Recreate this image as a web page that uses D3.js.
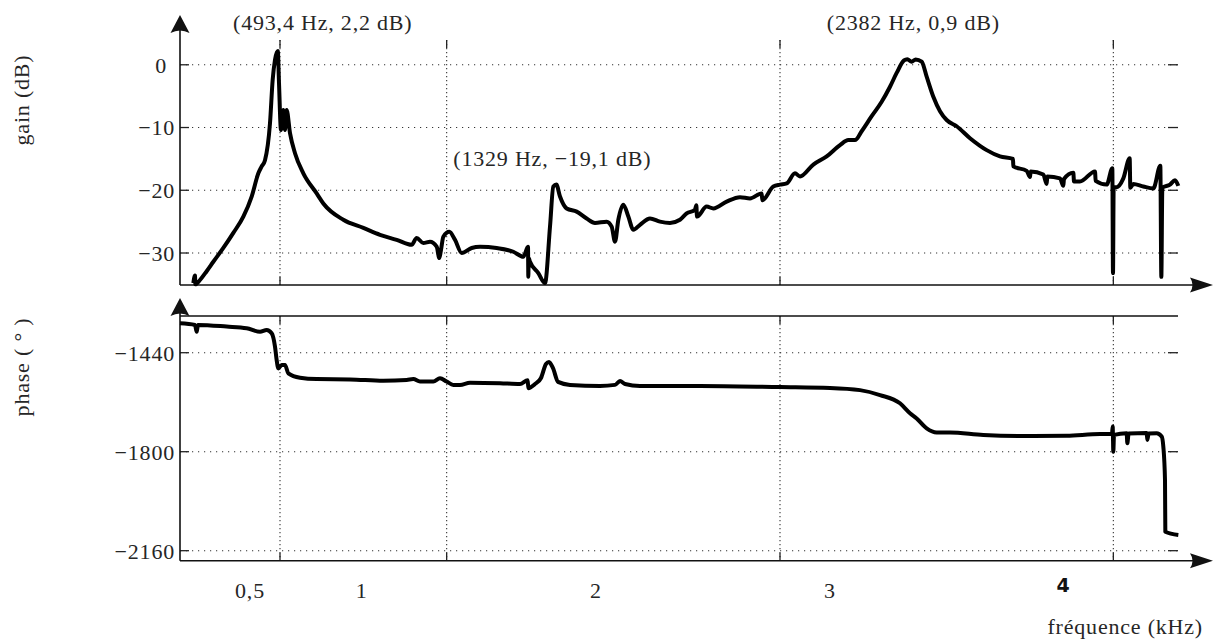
<!DOCTYPE html>
<html>
<head>
<meta charset="utf-8">
<script src="https://cdn.jsdelivr.net/npm/d3@7"></script>
<style>
  html, body { margin: 0; padding: 0; background: #fff; }
  svg { display: block; }
  .serif { font-family: "Liberation Serif", "Times New Roman", serif; fill: #262626; letter-spacing: 0.8px; }
</style>
</head>
<body>
<svg id="chart" width="1214" height="640"></svg>
<script>
// Frequency response of the measured system: gain (dB) and phase (deg) vs frequency (kHz)

const gainFreq = [
  0.240, 0.245, 0.246, 0.260, 0.280, 0.300, 0.330, 0.360, 0.390, 0.415, 0.435, 0.445, 0.455,
  0.470, 0.478, 0.485, 0.4934, 0.497, 0.503, 0.510, 0.515, 0.520, 0.530, 0.545, 0.570,
  0.610, 0.630, 0.690, 0.750, 0.800, 0.850, 0.895, 0.910, 0.930, 0.950, 0.970, 0.978,
  0.983, 0.990, 1.008, 1.025, 1.045, 1.075, 1.100, 1.150, 1.200, 1.230, 1.244, 1.245,
  1.246, 1.250, 1.275, 1.295, 1.310, 1.320, 1.329, 1.340, 1.360, 1.390, 1.420, 1.445,
  1.480, 1.495, 1.505, 1.515, 1.530, 1.545, 1.560, 1.580, 1.610, 1.640, 1.670, 1.700,
  1.720, 1.745, 1.749, 1.751, 1.780, 1.800, 1.840, 1.880, 1.910, 1.945, 1.947, 1.980,
  2.000, 2.020, 2.045, 2.060, 2.100, 2.140, 2.180, 2.205, 2.225, 2.245, 2.275, 2.305,
  2.330, 2.350, 2.372, 2.382, 2.395, 2.407, 2.425, 2.440, 2.460, 2.480, 2.500, 2.530,
  2.570, 2.620, 2.660, 2.699, 2.700, 2.740, 2.750, 2.752, 2.790, 2.800, 2.802, 2.840,
  2.850, 2.852, 2.880, 2.882, 2.900, 2.945, 2.947, 2.980, 2.997, 2.999, 3.001, 3.010,
  3.030, 3.049, 3.051, 3.060, 3.090, 3.120, 3.141, 3.144, 3.147, 3.170, 3.185, 3.195
];
const gainDb = [
  -34.8, -33.6, -35.0, -34.3, -32.9, -31.4, -29.2, -26.8, -24.2, -21.0, -17.3, -16.2, -15.2,
  -9.3, -2.4, 0.8, 2.2, -2.9, -10.4, -7.2, -10.4, -7.2, -10.9, -14.1, -17.3,
  -20.5, -22.1, -24.7, -26.0, -27.1, -27.9, -28.7, -27.6, -28.4, -28.2, -29.0, -30.8,
  -29.5, -27.4, -26.6, -27.9, -30.0, -29.2, -29.0, -29.2, -29.8, -30.6, -29.0, -33.8,
  -30.8, -31.4, -33.2, -34.8, -25.8, -19.4, -19.1, -21.0, -22.9, -23.4, -24.5, -25.2,
  -25.0, -25.8, -28.2, -24.7, -22.3, -24.2, -26.3, -25.5, -24.5, -25.0, -25.2, -24.7,
  -23.7, -23.1, -22.4, -24.2, -22.6, -22.9, -21.8, -21.1, -21.3, -20.5, -21.6, -19.4,
  -19.1, -18.9, -17.3, -17.8, -15.9, -14.6, -12.8, -12.0, -12.0, -10.6, -8.2, -5.9,
  -3.5, -1.3, 0.7, 0.9, 0.5, 0.85, 0.5, -1.9, -5.1, -7.4, -8.8, -9.8,
  -11.7, -13.6, -14.6, -15.0, -16.2, -16.9, -17.9, -17.0, -17.5, -19.0, -17.8, -18.1,
  -19.3, -18.2, -17.2, -18.6, -18.6, -17.0, -18.5, -19.1, -16.5, -33.2, -19.5, -19.5,
  -18.1, -14.9, -19.6, -19.0, -19.4, -19.7, -16.1, -33.8, -19.6, -19.1, -18.4, -19.3
];

const phaseFreq = [
  0.200, 0.245, 0.250, 0.254, 0.340, 0.400, 0.440, 0.460, 0.475, 0.485, 0.490, 0.495,
  0.505, 0.515, 0.525, 0.560, 0.610, 0.710, 0.810, 0.880, 0.900, 0.920, 0.960, 0.980,
  1.000, 1.020, 1.040, 1.070, 1.160, 1.220, 1.243, 1.245, 1.265, 1.283, 1.298, 1.307,
  1.319, 1.334, 1.370, 1.460, 1.505, 1.520, 1.535, 1.580, 1.760, 2.000, 2.150, 2.240,
  2.300, 2.360, 2.390, 2.410, 2.440, 2.470, 2.510, 2.610, 2.760, 2.860, 2.960, 2.996,
  2.998, 3.000, 3.002, 3.040, 3.042, 3.046, 3.100, 3.102, 3.106, 3.130, 3.145, 3.150,
  3.155, 3.156, 3.195
];
const phaseDeg = [
  -1333, -1339, -1364, -1339, -1345, -1351, -1364, -1357, -1369, -1418, -1467, -1497,
  -1485, -1485, -1515, -1531, -1536, -1537, -1542, -1539, -1536, -1545, -1545, -1533,
  -1545, -1557, -1557, -1549, -1551, -1554, -1540, -1569, -1554, -1532, -1481, -1474,
  -1496, -1546, -1557, -1561, -1557, -1543, -1554, -1561, -1561, -1565, -1568, -1576,
  -1594, -1624, -1660, -1679, -1715, -1730, -1730, -1739, -1743, -1742, -1736, -1736,
  -1708, -1800, -1739, -1733, -1769, -1734, -1732, -1757, -1734, -1733, -1745, -1782,
  -1903, -2091, -2103
];

const gainTicks = [0, -10, -20, -30];
const phaseTicks = [-1440, -1800, -2160];
const gridFreqs = [0.5, 1, 2, 3];
const freqTickLabels = ["0,5", "1", "2", "3", "4"];
const freqTickLabelAt = [0.41, 0.745, 1.448, 2.15, 2.849];

const peakFreq = [0.4934, 1.329, 2.382];
const peakDb = [2.2, -19.1, 0.9];
const peakLabels = ["(493,4 Hz, 2,2 dB)", "(1329 Hz, \u221219,1 dB)", "(2382 Hz, 0,9 dB)"];

// ---- layout ----
const left = 180, right = 1178, arrowTip = 1213;
const gTop = 40, gBottom = 285;
const pTop = 316, pBottom = 560.7;

const x = d3.scaleLinear().domain([0.2, 3.2]).range([180, 1180]);
const yG = d3.scaleLinear().domain([-35.1, 3.95]).range([gBottom, gTop]);
const yP = d3.scaleLinear().domain([-2196.4, -1306.5]).range([pBottom, pTop]);

const svg = d3.select("#chart");
const minus = v => (v < 0 ? "\u2212" + Math.abs(v) : String(v));

function panel(yScale, ticks, top, bottom, hasTopLine) {
  const g = svg.append("g");
  // horizontal dotted grid
  g.selectAll(".hg").data(ticks).join("line")
    .attr("x1", left).attr("x2", right)
    .attr("y1", d => yScale(d)).attr("y2", d => yScale(d))
    .attr("stroke", "#333").attr("stroke-width", 1.1)
    .attr("stroke-dasharray", "1.2 4.8");
  // solid tick stubs at both ends
  g.selectAll(".ht1").data(ticks).join("line")
    .attr("x1", left).attr("x2", left + 9)
    .attr("y1", d => yScale(d)).attr("y2", d => yScale(d))
    .attr("stroke", "#222").attr("stroke-width", 1.3);
  g.selectAll(".ht2").data(ticks).join("line")
    .attr("x1", right - 10).attr("x2", right)
    .attr("y1", d => yScale(d)).attr("y2", d => yScale(d))
    .attr("stroke", "#222").attr("stroke-width", 1.3);
  // vertical dotted grid
  g.selectAll(".vg").data(gridFreqs).join("line")
    .attr("x1", d => x(d)).attr("x2", d => x(d))
    .attr("y1", top).attr("y2", bottom)
    .attr("stroke", "#333").attr("stroke-width", 1.1)
    .attr("stroke-dasharray", "1.2 2.8");
  g.selectAll(".vt1").data(gridFreqs).join("line")
    .attr("x1", d => x(d)).attr("x2", d => x(d))
    .attr("y1", top).attr("y2", top + 8)
    .attr("stroke", "#222").attr("stroke-width", 1.3);
  g.selectAll(".vt2").data(gridFreqs).join("line")
    .attr("x1", d => x(d)).attr("x2", d => x(d))
    .attr("y1", bottom - 8).attr("y2", bottom)
    .attr("stroke", "#222").attr("stroke-width", 1.3);
  if (hasTopLine) {
    g.append("line").attr("x1", left).attr("x2", right)
      .attr("y1", top).attr("y2", top)
      .attr("stroke", "#111").attr("stroke-width", 1.5);
  }
  // tick labels
  g.selectAll(".tl").data(ticks).join("text")
    .attr("class", "serif")
    .attr("x", d => (d < 0 ? 175 : 167))
    .attr("y", d => yScale(d))
    .attr("dy", "0.36em")
    .attr("text-anchor", "end")
    .style("font-size", "22px")
    .text(d => minus(d));
}

panel(yG, gainTicks, gTop, gBottom, false);
panel(yP, phaseTicks, pTop, pBottom, true);

// axes with arrow heads
function hArrow(y) {
  svg.append("line").attr("x1", left).attr("x2", arrowTip - 12)
    .attr("y1", y).attr("y2", y).attr("stroke", "#111").attr("stroke-width", 1.6);
  svg.append("path")
    .attr("d", `M${arrowTip},${y} L${arrowTip - 23},${y - 7.5} Q${arrowTip - 18},${y} ${arrowTip - 23},${y + 7.5} Z`)
    .attr("fill", "#111");
}
function vArrow(yBottom, tipY) {
  svg.append("line").attr("x1", left).attr("x2", left)
    .attr("y1", yBottom).attr("y2", tipY + 12).attr("stroke", "#111").attr("stroke-width", 1.6);
  svg.append("path")
    .attr("d", `M${left},${tipY} L${left - 9.5},${tipY + 18} Q${left},${tipY + 13} ${left + 9.5},${tipY + 18} Z`)
    .attr("fill", "#111");
}
hArrow(gBottom);
hArrow(pBottom);
vArrow(gBottom, 15);
vArrow(pBottom, 298);

// curves
const gainData = gainFreq.map((f, i) => [f, gainDb[i]]);
const phaseData = phaseFreq.map((f, i) => [f, phaseDeg[i]]);

svg.append("path")
  .datum(gainData)
  .attr("fill", "none").attr("stroke", "#000").attr("stroke-width", 4)
  .attr("stroke-linejoin", "round").attr("stroke-linecap", "butt")
  .attr("d", d3.line().curve(d3.curveMonotoneX).x(d => x(d[0])).y(d => yG(d[1])));

svg.append("path")
  .datum(phaseData)
  .attr("fill", "none").attr("stroke", "#000").attr("stroke-width", 4)
  .attr("stroke-linejoin", "round").attr("stroke-linecap", "butt")
  .attr("d", d3.line().curve(d3.curveMonotoneX).x(d => x(d[0])).y(d => yP(d[1])));

// peak annotations
const labelDx = [45, -4, 6];
const labelY = [30, 166, 30];
svg.selectAll(".peak").data(peakLabels).join("text")
  .attr("class", "serif")
  .attr("x", (d, i) => x(peakFreq[i]) + labelDx[i])
  .attr("y", (d, i) => labelY[i])
  .attr("text-anchor", "middle")
  .style("font-size", "22px")
  .text(d => d);

// frequency labels under the lower panel
svg.selectAll(".fl").data(freqTickLabels).join("text")
  .attr("x", (d, i) => x(freqTickLabelAt[i]))
  .attr("y", (d, i) => (d === "4" ? 592 : 598))
  .attr("text-anchor", "middle")
  .attr("class", (d) => (d === "4" ? null : "serif"))
  .style("font-family", d => (d === "4" ? "'DejaVu Sans', sans-serif" : null))
  .style("font-weight", d => (d === "4" ? "bold" : null))
  .style("font-size", d => (d === "4" ? "19px" : "22px"))
  .style("fill", d => (d === "4" ? "#111" : null))
  .text(d => d);

// axis titles
svg.append("text").attr("class", "serif")
  .attr("x", 1203).attr("y", 634).attr("text-anchor", "end")
  .style("font-size", "22px").text("fréquence (kHz)");

svg.append("text").attr("class", "serif")
  .attr("transform", "translate(29,100) rotate(-90)")
  .attr("text-anchor", "middle")
  .style("font-size", "22px").text("gain (dB)");

svg.append("text").attr("class", "serif")
  .attr("transform", "translate(29,367) rotate(-90)")
  .attr("text-anchor", "middle")
  .style("font-size", "22px").text("phase ( ° )");
</script>
</body>
</html>
